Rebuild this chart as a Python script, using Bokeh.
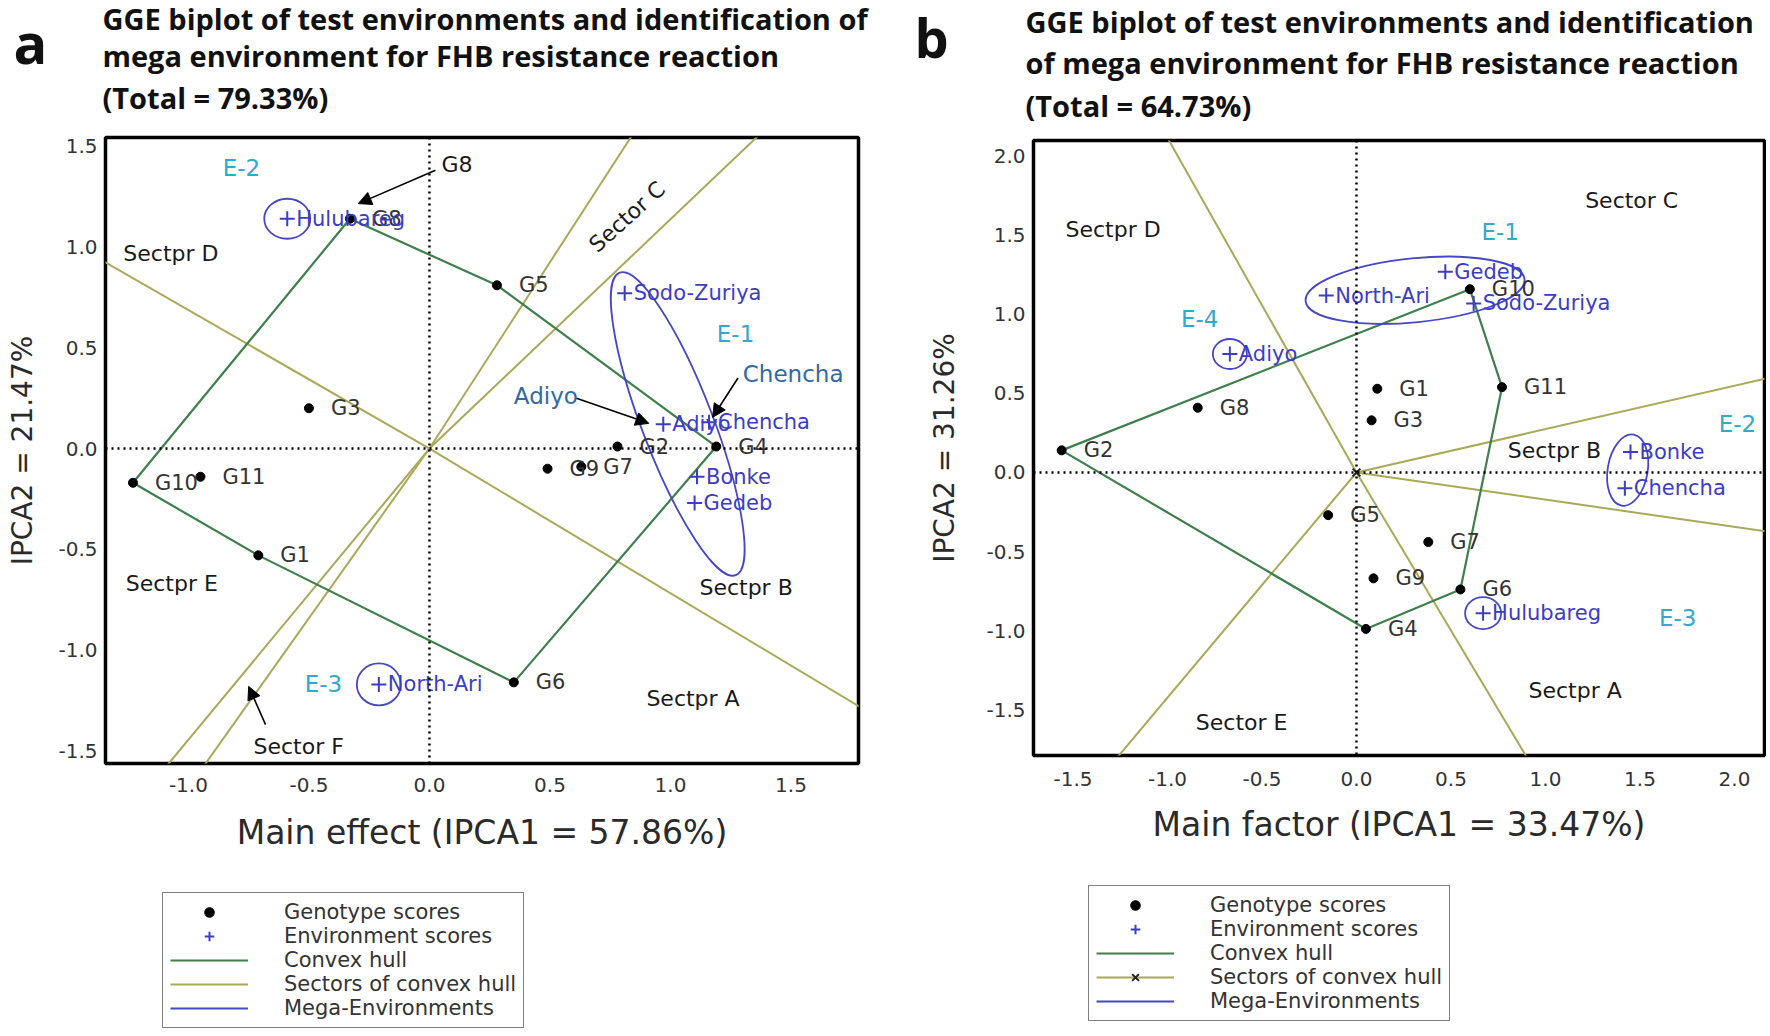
import math
from bokeh.plotting import figure
from bokeh.models import (Range1d, FixedTicker, PrintfTickFormatter, Span, Label,
                          Arrow, NormalHead, Legend, LegendItem, Spacer)
from bokeh.layouts import row, column
from bokeh.embed import file_html
from bokeh.resources import INLINE
from bokeh.core.properties import value

# ---------------- data: panel a ----------------
geno_names = ["G1", "G2", "G3", "G4", "G5", "G6", "G7", "G8", "G9", "G10", "G11"]
geno_a_x = [-0.71, 0.78, -0.50, 1.19, 0.28, 0.35, 0.63, -0.33, 0.49, -1.23, -0.95]
geno_a_y = [-0.53, 0.01, 0.20, 0.01, 0.81, -1.16, -0.09, 1.14, -0.10, -0.17, -0.14]

env_names = ["Adiyo", "Bonke", "Chencha", "Gedeb", "Hulubareg", "North-Ari", "Sodo-Zuriya"]
env_a_x = [0.97, 1.11, 1.16, 1.10, -0.59, -0.21, 0.81]
env_a_y = [0.12, -0.14, 0.13, -0.27, 1.14, -1.17, 0.77]

mega_a = {"E-1": ["Sodo-Zuriya", "Adiyo", "Chencha", "Bonke", "Gedeb"],
          "E-2": ["Hulubareg"],
          "E-3": ["North-Ari"]}

x_ticks_a = [-1.0, -0.5, 0.0, 0.5, 1.0, 1.5]
y_ticks_a = [-1.5, -1.0, -0.5, 0.0, 0.5, 1.0, 1.5]

# ---------------- data: panel b ----------------
geno_b_x = [0.11, -1.56, 0.08, 0.05, -0.15, 0.55, 0.38, -0.84, 0.09, 0.60, 0.77]
geno_b_y = [0.53, 0.14, 0.33, -0.99, -0.27, -0.74, -0.44, 0.41, -0.67, 1.16, 0.54]

env_b_x = [-0.67, 1.45, 1.42, 0.47, 0.67, -0.16, 0.62]
env_b_y = [0.75, 0.13, -0.10, 1.27, -0.89, 1.12, 1.07]

mega_b = {"E-1": ["Gedeb", "North-Ari", "Sodo-Zuriya"],
          "E-2": ["Bonke", "Chencha"],
          "E-3": ["Hulubareg"],
          "E-4": ["Adiyo"]}

x_ticks_b = [-1.5, -1.0, -0.5, 0.0, 0.5, 1.0, 1.5, 2.0]
y_ticks_b = [-1.5, -1.0, -0.5, 0.0, 0.5, 1.0, 1.5, 2.0]

legend_labels = ["Genotype scores", "Environment scores", "Convex hull",
                 "Sectors of convex hull", "Mega-Environments"]

# ---------------- styles ----------------
FONT = "DejaVu Sans"
TFONT = "Open Sans"
HULL_C = "#3f7f4c"
SECT_C = "#a9a959"
MEGA_C = "#4646c8"
ENV_C = "#3c3cc4"
ECYAN = "#34a8cc"
ANN_C = "#2f6aa6"
TXT_C = "#333333"


def convex_hull(xs, ys):
    pts = sorted(zip(xs, ys))

    def cross(o, a, b):
        return (a[0] - o[0]) * (b[1] - o[1]) - (a[1] - o[1]) * (b[0] - o[0])
    lower, upper = [], []
    for p in pts:
        while len(lower) >= 2 and cross(lower[-2], lower[-1], p) <= 0:
            lower.pop()
        lower.append(p)
    for p in reversed(pts):
        while len(upper) >= 2 and cross(upper[-2], upper[-1], p) <= 0:
            upper.pop()
        upper.append(p)
    return lower[:-1] + upper[:-1]


def sector_rays(h):
    xs, ys = [], []
    n = len(h)
    for i in range(n):
        p, q = h[i], h[(i + 1) % n]
        dx, dy = q[0] - p[0], q[1] - p[1]
        nx, ny = dy, -dx
        if nx * p[0] + ny * p[1] < 0:
            nx, ny = -nx, -ny
        L = math.hypot(nx, ny)
        xs.append([0.0, nx / L * 8])
        ys.append([0.0, ny / L * 8])
    return xs, ys


def make_panel(W, H, xr, yr, mb, gx, gy, ex, ey, mega, ell_style, xt, yt,
               xlabel, ylabel, xstand, ystand, tstand, origin_x=False):
    p = figure(width=W, height=H, x_range=Range1d(*xr), y_range=Range1d(*yr),
               output_backend="svg", toolbar_location=None,
               min_border_left=mb[0], min_border_right=mb[1],
               min_border_top=mb[2], min_border_bottom=mb[3])
    p.frame_align = False
    p.grid.visible = False
    p.outline_line_color = "black"
    p.outline_line_width = 3.5
    p.outline_line_alpha = 1
    for ax, ticks in ((p.xaxis, xt), (p.yaxis, yt)):
        ax.ticker = FixedTicker(ticks=ticks)
        ax.formatter = PrintfTickFormatter(format="%.1f")
        ax.major_tick_line_color = None
        ax.minor_tick_line_color = None
        ax.major_tick_out = 0
        ax.major_tick_in = 0
        ax.minor_tick_out = 0
        ax.axis_line_color = None
        ax.major_label_text_font = FONT
        ax.major_label_text_font_size = "20px"
        ax.major_label_text_color = TXT_C
        ax.axis_label_text_font = FONT
        ax.axis_label_text_font_style = "normal"
        ax.axis_label_text_color = "#2a2a2a"
    p.xaxis.axis_label_text_font_size = "33px"
    p.yaxis.axis_label_text_font_size = "28px"
    p.xaxis.major_label_standoff = tstand
    p.yaxis.major_label_standoff = 8
    p.xaxis.axis_label = xlabel
    p.yaxis.axis_label = ylabel
    p.xaxis.axis_label_standoff = xstand
    p.yaxis.axis_label_standoff = ystand

    p.add_layout(Span(location=0, dimension="height", line_color="black",
                      line_width=2.5, line_dash="2 4"))
    p.add_layout(Span(location=0, dimension="width", line_color="black",
                      line_width=2.5, line_dash="2 4"))

    h = convex_hull(gx, gy)
    rx, ry = sector_rays(h)
    p.multi_line(rx, ry, line_color=SECT_C, line_width=2)
    hx = [q[0] for q in h] + [h[0][0]]
    hy = [q[1] for q in h] + [h[0][1]]
    p.line(hx, hy, line_color=HULL_C, line_width=2.2)

    # mega-environment ellipses centred on the mean of their members
    for key, members in mega.items():
        cx = sum(ex[env_names.index(m)] for m in members) / len(members)
        cy = sum(ey[env_names.index(m)] for m in members) / len(members)
        w, hh, ang = ell_style[key]
        p.ellipse(x=[cx], y=[cy], width=w, height=hh, angle=math.radians(ang),
                  width_units="screen", height_units="screen",
                  fill_color=None, line_color=MEGA_C, line_width=1.8)

    p.scatter(gx, gy, marker="circle", size=9, color="black")
    p.text(gx, gy, text=geno_names, x_offset=22, text_baseline="middle",
           text_align="left", text_font=value(FONT), text_font_size="21px",
           text_color=TXT_C)
    p.scatter(ex, ey, marker="cross", size=15, line_width=2, line_color=ENV_C)
    p.text(ex, ey, text=env_names, x_offset=9, text_baseline="middle",
           text_align="left", text_font=value(FONT), text_font_size="21px",
           text_color=ENV_C)
    if origin_x:
        p.scatter([0], [0], marker="x", size=11, line_width=2,
                  line_color="#222222")
    return p


def bare_fig(W, H, xr, yr):
    f = figure(width=W, height=H, x_range=Range1d(*xr), y_range=Range1d(*yr),
               output_backend="svg", toolbar_location=None,
               x_axis_location=None, y_axis_location=None, min_border=0)
    f.frame_align = False
    f.grid.visible = False
    f.outline_line_color = None
    return f


def legend_fig(W, H, margin, origin_x=False):
    # legend-only canvas; its sample glyphs sit outside the visible range
    f = bare_fig(W, H, (0, 1), (0, 1))
    g = f.scatter([5], [5], marker="circle", size=11, color="black")
    e = f.scatter([5], [5], marker="cross", size=15, line_width=2,
                  line_color=ENV_C)
    hl = f.line([5, 6], [5, 6], line_color=HULL_C, line_width=2.2)
    sl = [f.line([5, 6], [5, 6], line_color=SECT_C, line_width=2.2)]
    if origin_x:
        sl.append(f.scatter([5], [5], marker="x", size=11, line_width=2,
                            line_color="#222222"))
    ml = f.line([5, 6], [5, 6], line_color=MEGA_C, line_width=2.2)
    rends = [[g], [e], [hl], sl, [ml]]
    items = [LegendItem(label=lab, renderers=r)
             for lab, r in zip(legend_labels, rends)]
    leg = Legend(items=items, location="top_left", orientation="vertical",
                 border_line_color="black", border_line_width=1.5,
                 background_fill_color="white", background_fill_alpha=1.0,
                 label_text_font=FONT, label_text_font_size="21px",
                 label_text_color=TXT_C, glyph_width=78, glyph_height=24,
                 label_height=20, spacing=0, padding=7, margin=margin,
                 label_standoff=36)
    f.add_layout(leg)
    return f


def txt(p, x, y, s, size="22px", color="#1a1a1a", align="left", angle=0,
        font=FONT, style="normal"):
    p.add_layout(Label(x=x, y=y, text=s, text_font=font, text_font_size=size,
                       text_color=color, text_align=align,
                       text_baseline="middle", angle=angle, angle_units="deg",
                       text_font_style=style))


def arrow(p, x0, y0, x1, y1):
    p.add_layout(Arrow(end=NormalHead(size=13, fill_color="black",
                                      line_color="black"),
                       x_start=x0, y_start=y0, x_end=x1, y_end=y1,
                       line_color="black", line_width=1.6))


HEAD_H = 128
PLOT_H = 750
LEG_H = 152

# ---------------- panel a ----------------
WA = 885
pa = make_panel(
    WA, PLOT_H, (-1.344, 1.78), (-1.5625, 1.543), (105, 27, 9, 115),
    geno_a_x, geno_a_y, env_a_x, env_a_y, mega_a,
    {"E-1": (71, 324, 21), "E-2": (46, 40, 0), "E-3": (44, 42, 0)},
    x_ticks_a, y_ticks_a, "Main effect (IPCA1 = 57.86%)", "IPCA2 = 21.47%",
    18, 16, 14)

for k, (lx, ly) in {"E-2": (-0.78, 1.39), "E-1": (1.27, 0.57),
                    "E-3": (-0.44, -1.17)}.items():
    txt(pa, lx, ly, k, size="23px", color=ECYAN, align="center")
txt(pa, -1.27, 0.97, "Sectpr D")
txt(pa, 1.12, -0.69, "Sectpr B")
txt(pa, 0.90, -1.24, "Sectpr A")
txt(pa, -1.26, -0.67, "Sectpr E")
txt(pa, -0.73, -1.48, "Sector F")
txt(pa, 0.82, 1.15, "Sector C", align="center", angle=42)
txt(pa, 0.05, 1.41, "G8", size="22px")
arrow(pa, 0.025, 1.38, -0.295, 1.215)
arrow(pa, -0.68, -1.37, -0.75, -1.18)
txt(pa, 1.30, 0.37, "Chencha", size="23px", color=ANN_C)
arrow(pa, 1.28, 0.35, 1.175, 0.155)
txt(pa, 0.35, 0.26, "Adiyo", size="23px", color=ANN_C)
arrow(pa, 0.61, 0.25, 0.91, 0.125)

head_a = bare_fig(WA, HEAD_H, (0, WA), (HEAD_H, 0))
txt(head_a, 30, 41, "a", size="56px", color="#111111", align="center",
    font=TFONT, style="bold")
for yy, s in ((18, "GGE biplot of test environments and identification of"),
              (55, "mega environment for FHB resistance reaction"),
              (97, "(Total = 79.33%)")):
    txt(head_a, 102, yy, s, size="29px", color="#111111", font=TFONT,
        style="bold")

SP_A = 148
leg_a = legend_fig(WA - SP_A, LEG_H, 14)
col_a = column(head_a, pa, row(Spacer(width=SP_A, height=LEG_H), leg_a))

# ---------------- panel b ----------------
WB = 881
pb = make_panel(
    WB, PLOT_H, (-1.709, 2.159), (-1.791, 2.101), (148, 2, 12, 123),
    geno_b_x, geno_b_y, env_b_x, env_b_y, mega_b,
    {"E-1": (220, 64, 5.7), "E-2": (40, 72, -9.5), "E-3": (36, 32, 0),
     "E-4": (34, 30, 0)},
    x_ticks_b, y_ticks_b, "Main factor (IPCA1 = 33.47%)", "IPCA2 = 31.26%",
    16, 22, 16, origin_x=True)

for k, (lx, ly) in {"E-1": (0.76, 1.52), "E-2": (2.016, 0.31),
                    "E-3": (1.70, -0.92), "E-4": (-0.83, 0.97)}.items():
    txt(pb, lx, ly, k, size="23px", color=ECYAN, align="center")
txt(pb, -1.54, 1.54, "Sectpr D")
txt(pb, 1.21, 1.72, "Sector C")
txt(pb, 0.80, 0.14, "Sectpr B")
txt(pb, 0.91, -1.38, "Sectpr A")
txt(pb, -0.85, -1.58, "Sector E")

head_b = bare_fig(WB, HEAD_H, (0, WB), (HEAD_H, 0))
txt(head_b, 46, 36, "b", size="54px", color="#111111", align="center",
    font=TFONT, style="bold")
for yy, s in ((21, "GGE biplot of test environments and identification"),
              (62, "of mega environment for FHB resistance reaction"),
              (105, "(Total = 64.73%)")):
    txt(head_b, 140, yy, s, size="29px", color="#111111", font=TFONT,
        style="bold")

SP_B = 196
leg_b = legend_fig(WB - SP_B, LEG_H, 7, origin_x=True)
col_b = column(head_b, pb, row(Spacer(width=SP_B, height=LEG_H), leg_b))

layout = row(col_a, col_b)
open("out.html", "w").write(file_html(layout, INLINE))
